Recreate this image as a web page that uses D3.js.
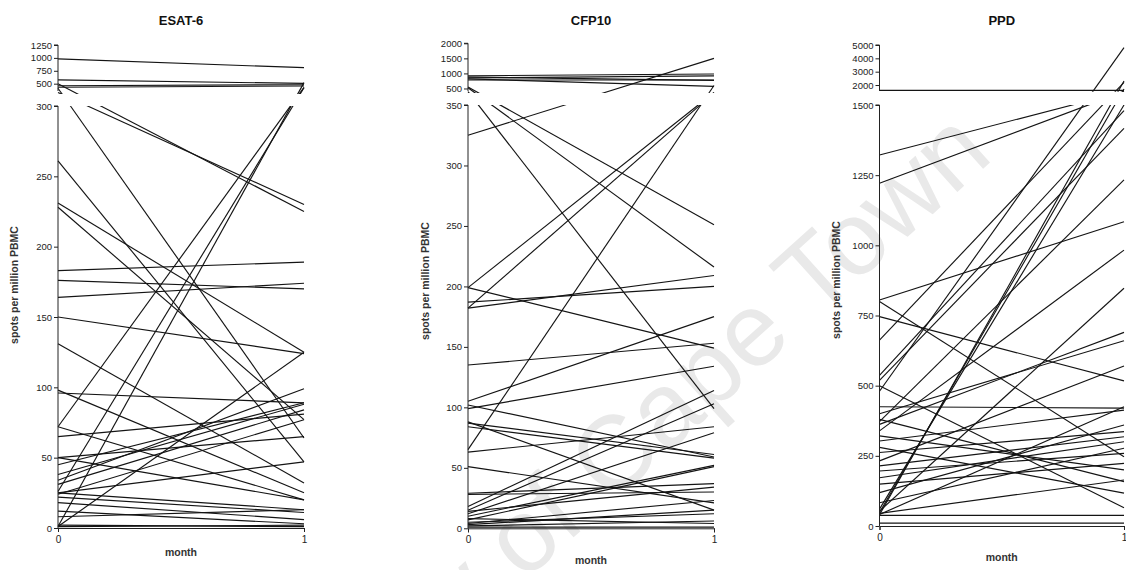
<!DOCTYPE html>
<html>
<head>
<meta charset="utf-8">
<script src="https://cdn.jsdelivr.net/npm/d3@7"></script>
<style>
  html, body { margin: 0; padding: 0; background: #fff; }
  svg { display: block; }
  text { font-family: "Liberation Sans", Arial, sans-serif; fill: #111; }
</style>
</head>
<body>
<svg id="chart" width="1126" height="570"></svg>
<script>
// Paired ELISpot responses, month 0 vs month 1 (spots per million PBMC).
const months = [0, 1];

// ESAT-6
const esatMonth0 = [980, 575, 500, 460, 430, 412, 331, 261, 231, 228, 183, 176, 164, 150, 131, 98, 96, 72, 72, 65, 50, 45, 38, 34, 31, 25, 25, 24, 22, 18, 12, 8, 26, 1, 1, 1, 2, 50];
const esatMonth1 = [810, 505, 225, 480, 455, 64, 230, 47, 125, 77, 189, 170, 174, 124, 32, 25, 89, 430, 20, 81, 65, 89, 88, 99, 84, 47, 13, 77, 11, 6, 3, 13, 420, 520, 125, 2, 1, 20];
const esatLowTicks = [0, 50, 100, 150, 200, 250, 300];
const esatHighTicks = [500, 750, 1000, 1250];

// CFP10
const cfpMonth0 = [920, 780, 850, 820, 880, 550, 526, 395, 325, 199, 182, 65, 199, 187, 182, 135, 105, 99, 102, 87, 84, 88, 63, 51, 29, 18, 15, 12, 10, 7, 4, 3, 1, 2, 5, 8, 28, 14];
const cfpMonth1 = [980, 780, 920, 570, 770, 251, 216, 99, 1500, 367, 355, 600, 149, 200, 209, 153, 175, 134, 59, 61, 58, 15, 84, 21, 37, 114, 103, 79, 52, 51, 23, 15, 1, 6, 12, 4, 30, 34];
const cfpLowTicks = [0, 50, 100, 150, 200, 250, 300, 350];
const cfpHighTicks = [500, 1000, 1500, 2000];

// PPD
const ppdMonth0 = [1600, 1322, 1221, 480, 662, 40, 60, 48, 805, 800, 746, 537, 519, 500, 425, 400, 380, 372, 362, 339, 321, 303, 280, 262, 232, 214, 196, 172, 149, 119, 83, 53, 45, 41, 38, 10];
const ppdMonth1 = [1600, 1515, 1505, 4800, 2200, 2300, 1500, 1700, 1084, 247, 517, 1480, 1417, 65, 420, 660, 158, 1233, 690, 983, 200, 413, 117, 336, 570, 318, 259, 300, 223, 360, 277, 847, 164, 425, 38, 10];
const ppdLowTicks = [0, 250, 500, 750, 1000, 1250, 1500];
const ppdHighTicks = [2000, 3000, 4000, 5000];

const svg = d3.select("#chart");

// faint diagonal watermark behind the plots
svg.append("text")
  .attr("transform", "translate(995,158) rotate(-42)")
  .attr("text-anchor", "end")
  .style("font-size", "104px")
  .style("fill", "#e9e9e9")
  .text("University of Cape Town");

const panels = [
  { id: "esat", title: "ESAT-6", m0: esatMonth0, m1: esatMonth1,
    lowTicks: esatLowTicks, highTicks: esatHighTicks,
    split: 300, top: 1250, x0: 58, x1: 304,
    lowRange: [528, 106], highRange: [94, 45], highAxisBottom: 91,
    titleY: 25, xLabelY: 556, tickLabelY: 545, yLabelX: 18, yLabelY: 285 },
  { id: "cfp", title: "CFP10", m0: cfpMonth0, m1: cfpMonth1,
    lowTicks: cfpLowTicks, highTicks: cfpHighTicks,
    split: 350, top: 2000, x0: 468, x1: 714,
    lowRange: [528.3, 105], highRange: [93, 43.3], highAxisBottom: 91,
    titleY: 25, xLabelY: 564, tickLabelY: 545, yLabelX: 429, yLabelY: 281 },
  { id: "ppd", title: "PPD", m0: ppdMonth0, m1: ppdMonth1,
    lowTicks: ppdLowTicks, highTicks: ppdHighTicks,
    split: 1500, top: 5000, x0: 879.5, x1: 1124,
    lowRange: [526, 105], highRange: [91.7, 45], highAxisBottom: 91,
    titleY: 25, xLabelY: 561, tickLabelY: 544, yLabelX: 840, yLabelY: 280 }
];

panels.forEach(p => {
  const g = svg.append("g");
  const x = d3.scaleLinear().domain([0, 1]).range([p.x0, p.x1]);
  const yLow = d3.scaleLinear().domain([0, p.split]).range(p.lowRange);
  const yHigh = d3.scaleLinear().domain([p.split, p.top]).range(p.highRange);
  const yAt = v => (v <= p.split ? yLow(v) : yHigh(v));

  // broken axis: clip lines to the two segments, leaving the gap empty
  const clipId = "clip-" + p.id;
  const cp = svg.append("defs").append("clipPath").attr("id", clipId);
  cp.append("rect")
    .attr("x", p.x0 - 1).attr("y", p.highRange[1] - 3)
    .attr("width", p.x1 - p.x0 + 3).attr("height", p.highRange[0] - p.highRange[1] + 3);
  cp.append("rect")
    .attr("x", p.x0 - 1).attr("y", p.lowRange[1])
    .attr("width", p.x1 - p.x0 + 3).attr("height", p.lowRange[0] - p.lowRange[1] + 2);

  const line = d3.line().x(d => x(d[0])).y(d => yAt(d[1]));
  const subjects = p.m0.map((v, i) => [[months[0], v], [months[1], p.m1[i]]]);

  g.append("g")
    .attr("clip-path", `url(#${clipId})`)
    .selectAll("path")
    .data(subjects)
    .join("path")
    .attr("d", line)
    .attr("fill", "none")
    .attr("stroke", "#141414")
    .attr("stroke-width", 1.15);

  // lower y axis
  const lowAxis = d3.axisLeft(yLow).tickValues(p.lowTicks).tickSize(4).tickPadding(2)
    .tickFormat(d3.format("d"));
  const la = g.append("g").attr("transform", `translate(${p.x0},0)`).call(lowAxis);

  // upper y axis (segment above the break)
  const highAxis = d3.axisLeft(yHigh).tickValues(p.highTicks).tickSize(4).tickPadding(2)
    .tickFormat(d3.format("d"));
  const ha = g.append("g").attr("transform", `translate(${p.x0},0)`).call(highAxis);
  ha.select(".domain").attr("d", `M-4,${p.highRange[1]}H0V${p.highAxisBottom}`);
  la.select(".domain").attr("d", `M-4,${p.lowRange[1]}H0V${p.lowRange[0]}`);

  // x axis
  const xAxis = d3.axisBottom(x).tickValues(months).tickSize(4).tickPadding(4)
    .tickFormat(d3.format("d"));
  const xa = g.append("g").attr("transform", `translate(0,${p.lowRange[0]})`).call(xAxis);

  [la, ha, xa].forEach(a => {
    a.selectAll(".domain, .tick line").attr("stroke", "#222").attr("stroke-width", 1);
    a.selectAll("text").style("font-size", "9.5px").style("fill", "#222");
  });
  xa.selectAll("text").style("font-size", "10px");

  g.append("text")
    .attr("x", (p.x0 + p.x1) / 2).attr("y", p.titleY)
    .attr("text-anchor", "middle")
    .style("font-size", "13px").style("font-weight", "bold")
    .text(p.title);

  g.append("text")
    .attr("x", (p.x0 + p.x1) / 2).attr("y", p.xLabelY)
    .attr("text-anchor", "middle")
    .style("font-size", "10.5px").style("font-weight", "bold").style("fill", "#333")
    .text("month");

  g.append("text")
    .attr("transform", `translate(${p.yLabelX},${p.yLabelY}) rotate(-90)`)
    .attr("text-anchor", "middle")
    .style("font-size", "10.5px").style("font-weight", "bold").style("fill", "#333")
    .text("spots per million PBMC");
});
</script>
</body>
</html>
